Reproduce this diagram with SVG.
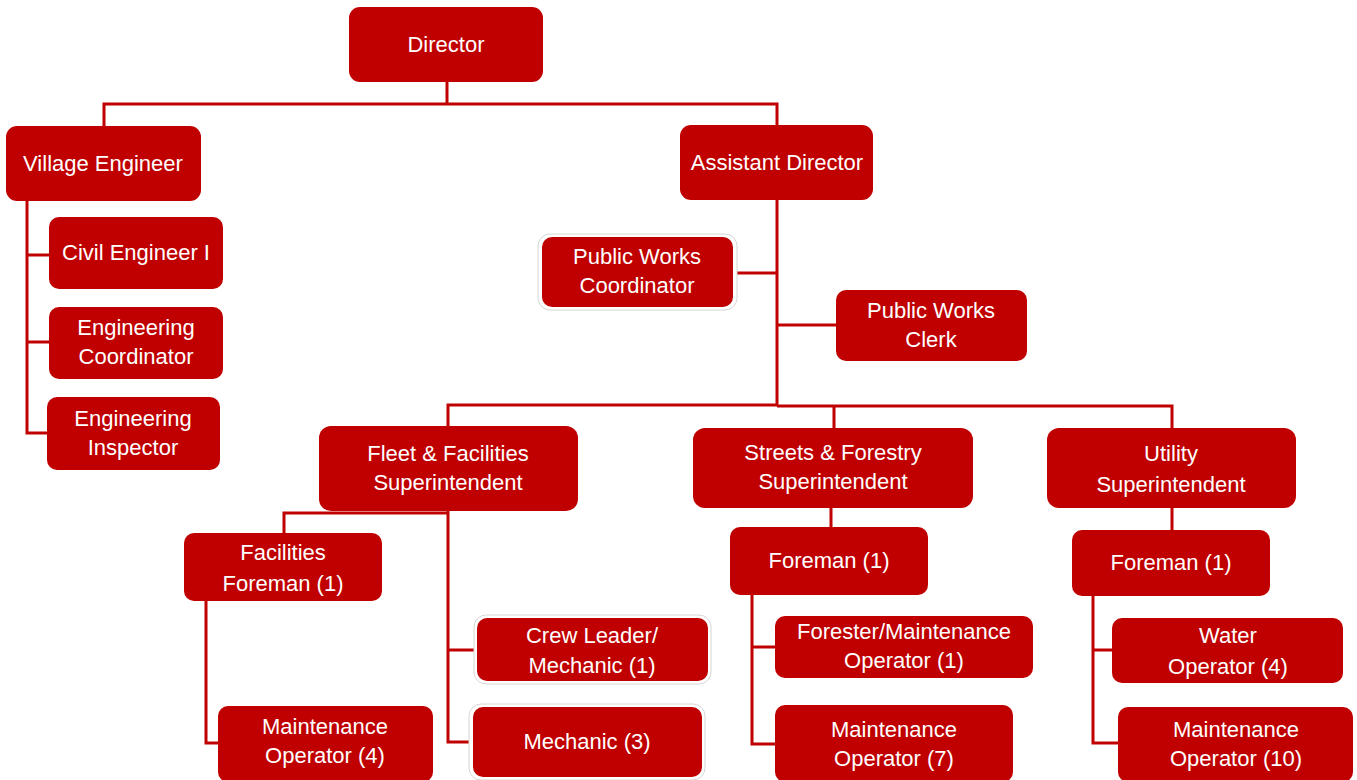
<svg xmlns="http://www.w3.org/2000/svg" width="1357" height="780" viewBox="0 0 1357 780">
<style>
.b{fill:#C00000;}
.o{fill:#fff;stroke:#d6d6d6;stroke-width:1;}
.t{fill:#fff;font-family:"Liberation Sans",Arial,sans-serif;font-size:22px;text-anchor:middle;}
.c{fill:none;stroke:#C00000;stroke-width:3;}
</style>
<rect width="1357" height="780" fill="#fff"/>
<g id="connectors">
<path class="c" d="M447,82V104M104,126V104H777V126"/>
<path class="c" d="M27,201V433H47M27,255H49M27,342H49"/>
<path class="c" d="M777,200V406M733,273H777M777,325H836"/>
<path class="c" d="M448,426V405H777M777,406H1172V428M834,406V428"/>
<path class="c" d="M448,511V742H473M448,650H477M448,513H284V533"/>
<path class="c" d="M206,601V743H218"/>
<path class="c" d="M831,508V527M752,595V744H775M752,647H775"/>
<path class="c" d="M1172,508V530M1093,596V743H1118M1093,650H1112"/>
</g>
<g id="director"><rect class="b" x="349" y="7" width="194" height="75" rx="11"/><text class="t" x="446" y="52">Director</text></g>
<g id="village-engineer"><rect class="b" x="6" y="126" width="195" height="75" rx="11"/><text class="t" x="103" y="171">Village Engineer</text></g>
<g id="assistant-director"><rect class="b" x="680" y="125" width="193" height="75" rx="11"/><text class="t" x="777" y="170">Assistant Director</text></g>
<g id="civil-engineer"><rect class="b" x="49" y="217" width="174" height="72" rx="10"/><text class="t" x="136" y="260">Civil Engineer I</text></g>
<g id="engineering-coordinator"><rect class="b" x="49" y="307" width="174" height="72" rx="10"/><text class="t" x="136" y="335">Engineering</text><text class="t" x="136" y="364">Coordinator</text></g>
<g id="engineering-inspector"><rect class="b" x="47" y="397" width="173" height="73" rx="10"/><text class="t" x="133" y="426">Engineering</text><text class="t" x="133" y="455">Inspector</text></g>
<g id="public-works-coordinator"><rect class="o" x="538" y="234" width="199" height="76" rx="12"/><rect class="b" x="542" y="237" width="191" height="70" rx="10"/><text class="t" x="637" y="264">Public Works</text><text class="t" x="637" y="293">Coordinator</text></g>
<g id="public-works-clerk"><rect class="b" x="836" y="290" width="191" height="71" rx="10"/><text class="t" x="931" y="318">Public Works</text><text class="t" x="931" y="347">Clerk</text></g>
<g id="fleet-superintendent"><rect class="b" x="319" y="426" width="259" height="85" rx="12"/><text class="t" x="448" y="461">Fleet &amp; Facilities</text><text class="t" x="448" y="490">Superintendent</text></g>
<g id="streets-superintendent"><rect class="b" x="693" y="428" width="280" height="80" rx="12"/><text class="t" x="833" y="460">Streets &amp; Forestry</text><text class="t" x="833" y="489">Superintendent</text></g>
<g id="utility-superintendent"><rect class="b" x="1047" y="428" width="249" height="80" rx="12"/><text class="t" x="1171" y="461">Utility</text><text class="t" x="1171" y="492">Superintendent</text></g>
<g id="facilities-foreman"><rect class="b" x="184" y="533" width="198" height="68" rx="10"/><text class="t" x="283" y="560">Facilities</text><text class="t" x="283" y="591">Foreman (1)</text></g>
<g id="crew-leader"><rect class="o" x="474" y="615" width="237" height="69" rx="12"/><rect class="b" x="477" y="618" width="231" height="63" rx="10"/><text class="t" x="592" y="643">Crew Leader/</text><text class="t" x="592" y="673">Mechanic (1)</text></g>
<g id="mechanic"><rect class="o" x="469" y="704" width="236" height="76" rx="12"/><rect class="b" x="473" y="707" width="229" height="70" rx="10"/><text class="t" x="587" y="749">Mechanic (3)</text></g>
<g id="maintenance-operator-4"><rect class="b" x="218" y="706" width="215" height="76" rx="10"/><text class="t" x="325" y="734">Maintenance</text><text class="t" x="325" y="763">Operator (4)</text></g>
<g id="streets-foreman"><rect class="b" x="730" y="527" width="198" height="68" rx="10"/><text class="t" x="829" y="568">Foreman (1)</text></g>
<g id="forester"><rect class="b" x="775" y="616" width="258" height="62" rx="10"/><text class="t" x="904" y="639">Forester/Maintenance</text><text class="t" x="904" y="668">Operator (1)</text></g>
<g id="maintenance-operator-7"><rect class="b" x="775" y="705" width="238" height="77" rx="10"/><text class="t" x="894" y="737">Maintenance</text><text class="t" x="894" y="766">Operator (7)</text></g>
<g id="utility-foreman"><rect class="b" x="1072" y="530" width="198" height="66" rx="10"/><text class="t" x="1171" y="570">Foreman (1)</text></g>
<g id="water-operator"><rect class="b" x="1112" y="618" width="231" height="65" rx="10"/><text class="t" x="1228" y="643">Water</text><text class="t" x="1228" y="674">Operator (4)</text></g>
<g id="maintenance-operator-10"><rect class="b" x="1118" y="707" width="235" height="75" rx="10"/><text class="t" x="1236" y="737">Maintenance</text><text class="t" x="1236" y="766">Operator (10)</text></g>
</svg>
